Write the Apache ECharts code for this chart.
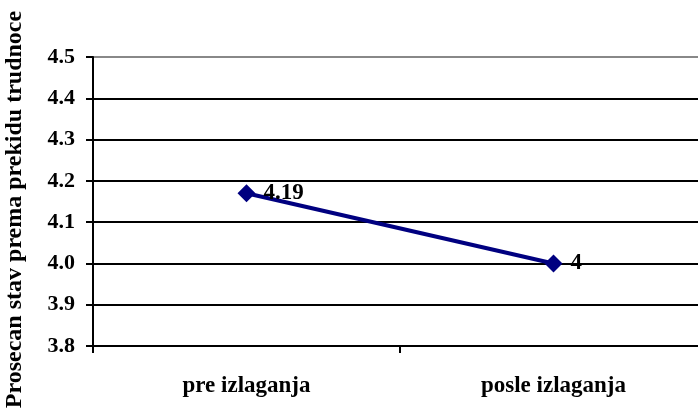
<!DOCTYPE html>
<html>
<head>
<meta charset="utf-8">
<script src="https://cdn.jsdelivr.net/npm/echarts@6/dist/echarts.min.js"></script>
<style>
html,body{margin:0;padding:0;background:#fff;}
#chart{width:698px;height:409px;}
</style>
</head>
<body>
<div id="chart"></div>
<script>
const categories = ['pre izlaganja', 'posle izlaganja'];
const values = [4.17, 4.0];
const pointLabels = ['4.19', '4'];
const yAxisName = 'Prosecan stav prema prekidu trudnoce';
const yMin = 3.8, yMax = 4.5, yStep = 0.1;

const font = '"Liberation Serif", "Times New Roman", serif';
const chart = echarts.init(document.getElementById('chart'));
chart.setOption({
  animation: false,
  backgroundColor: '#fff',
  grid: { left: 93, right: -9, top: 57, bottom: 63, containLabel: false, outerBoundsMode: 'none' },
  xAxis: {
    type: 'category',
    data: categories,
    boundaryGap: true,
    axisLine: { lineStyle: { color: '#000', width: 2 } },
    axisTick: { show: true, length: 7, lineStyle: { color: '#000', width: 2 } },
    axisLabel: { color: '#000', fontFamily: font, fontWeight: 'bold', fontSize: 23, margin: 29 },
    splitLine: { show: false }
  },
  yAxis: {
    type: 'value',
    min: yMin, max: yMax, interval: yStep,
    name: yAxisName,
    nameLocation: 'middle',
    nameRotate: 90,
    nameGap: 66,
    nameTextStyle: { color: '#000', fontFamily: font, fontWeight: 'bold', fontSize: 24, padding: [0, 16, 0, 0] },
    axisLine: { show: true, lineStyle: { color: '#000', width: 2 } },
    axisTick: { show: true, length: 7, lineStyle: { color: '#000', width: 2 } },
    axisLabel: { color: '#000', fontFamily: font, fontWeight: 'bold', fontSize: 22, margin: 18,
      formatter: v => v.toFixed(1) },
    splitLine: { show: true, lineStyle: { width: 2,
      color: ['#000', '#000', '#000', '#000', '#000', '#000', '#000', '#888'] } }
  },
  series: [{
    type: 'line',
    data: values,
    symbol: 'diamond',
    symbolSize: 18,
    lineStyle: { color: '#000080', width: 4 },
    itemStyle: { color: '#000080' },
    label: {
      show: true,
      position: 'right',
      distance: 8,
      color: '#000',
      fontFamily: font,
      fontWeight: 'bold',
      fontSize: 23,
      formatter: p => pointLabels[p.dataIndex]
    }
  }]
});
</script>
</body>
</html>
